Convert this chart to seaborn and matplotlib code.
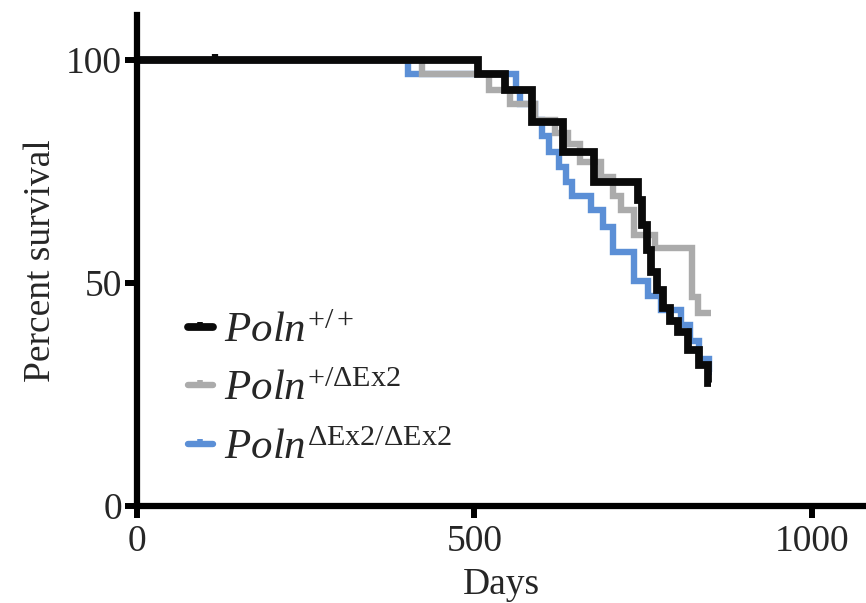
import pandas as pd
import matplotlib
matplotlib.use('Agg')
import matplotlib.pyplot as plt
import seaborn as sns
from matplotlib.lines import Line2D
from matplotlib.path import Path

# Kaplan-Meier steps: day of each drop and survival after it
BLACK_T = [0, 116, 505, 545, 586, 631, 677, 742, 748, 755, 762, 771, 780, 790, 801, 816, 832, 846, 850]
BLACK_S = [100, 100, 96.7, 93.3, 86.1, 79.4, 72.6, 68.6, 63.0, 57.4, 52.5, 48.4, 44.4, 41.5, 39.0, 35.0, 31.6, 27.5, 27.5]

GRAY_T = [0, 423, 521, 553, 590, 620, 639, 657, 687, 706, 717, 736, 768, 823, 831, 850]
GRAY_S = [100, 96.7, 93.3, 90.0, 86.5, 83.6, 81.0, 77.0, 73.8, 69.5, 66.4, 60.8, 57.8, 46.9, 43.3, 43.3]

BLUE_T = [0, 401, 561, 568, 590, 600, 610, 625, 635, 645, 672, 690, 706, 736, 757, 776, 806, 820, 832, 847, 852]
BLUE_S = [100, 96.7, 93.3, 90.0, 86.5, 83.0, 79.4, 76.0, 72.5, 69.5, 66.4, 62.5, 57.0, 50.5, 47.0, 44.0, 40.6, 37.0, 33.0, 30.0, 30.0]

GENOTIPOS = ['ko', 'het', 'wt']
ETIQUETAS = {
    'wt': r'$\mathit{Poln}^{\mathrm{+/+}}$',
    'het': r'$\mathit{Poln}^{\mathrm{+/\Delta Ex2}}$',
    'ko': r'$\mathit{Poln}^{\mathrm{\Delta Ex2/\Delta Ex2}}$',
}
COLORES = {'wt': '#0a0a0a', 'het': '#ababab', 'ko': '#5b8fd6'}
GROSOR = {'wt': 5.6, 'het': 4.6, 'ko': 4.6}

sns.set_theme(style='white')
plt.rcParams['font.family'] = ['Liberation Serif', 'DejaVu Serif']
plt.rcParams['mathtext.fontset'] = 'custom'
plt.rcParams['mathtext.rm'] = 'Liberation Serif'
plt.rcParams['mathtext.it'] = 'Liberation Serif:italic'

datos = {'wt': (BLACK_T, BLACK_S), 'het': (GRAY_T, GRAY_S), 'ko': (BLUE_T, BLUE_S)}

fig = plt.figure(figsize=(8.66, 6.03), dpi=100)
ax = fig.add_axes([0.158, 0.161, 0.842, 0.814])

for g in GENOTIPOS:
    t, s = datos[g]
    df = pd.DataFrame({'dias': t, 'superv': s})
    sns.lineplot(data=df, x='dias', y='superv', ax=ax, color=COLORES[g],
                 linewidth=GROSOR[g], drawstyle='steps-post', estimator=None,
                 sort=False, solid_joinstyle='miter', solid_capstyle='butt')

# censored tick on the black curve
tick_up = Path([(0, 0), (0, 1)])
ax.plot([BLACK_T[1]], [BLACK_S[1]], marker=tick_up, markersize=9,
        markeredgewidth=4.5, color=COLORES['wt'], linestyle='none')

ax.set_xlim(0, 1080)
ax.set_ylim(0, 110)
ax.set_xticks([0, 500, 1000])
ax.set_yticks([0, 50, 100])
ax.set_xlabel('Days', fontsize=27, labelpad=6)
ax.set_ylabel('Percent survival', fontsize=27, labelpad=6)
ax.tick_params(axis='both', which='major', labelsize=27, length=8.5, width=4.3,
               direction='out', color='black', pad=2, bottom=True, left=True)
ax.tick_params(axis='x', pad=5)
for lado in ['top', 'right']:
    ax.spines[lado].set_visible(False)
for lado in ['left', 'bottom']:
    ax.spines[lado].set_linewidth(4.5)
    ax.spines[lado].set_color('black')

handles = []
for g in ['wt', 'het', 'ko']:
    h = Line2D([0, 1], [0, 0], color=COLORES[g], linewidth=GROSOR[g],
               marker=tick_up, markersize=7, markeredgewidth=4,
               solid_capstyle='round')
    handles.append(h)
ax.legend(handles, [ETIQUETAS[g] for g in ['wt', 'het', 'ko']],
          loc='upper left', bbox_to_anchor=(0.04, 0.44), frameon=False,
          fontsize=31, handlelength=0.6, handletextpad=0.25, labelspacing=0.45,
          borderpad=0, markerscale=1, numpoints=1)

fig.savefig('out.png', dpi=100)
